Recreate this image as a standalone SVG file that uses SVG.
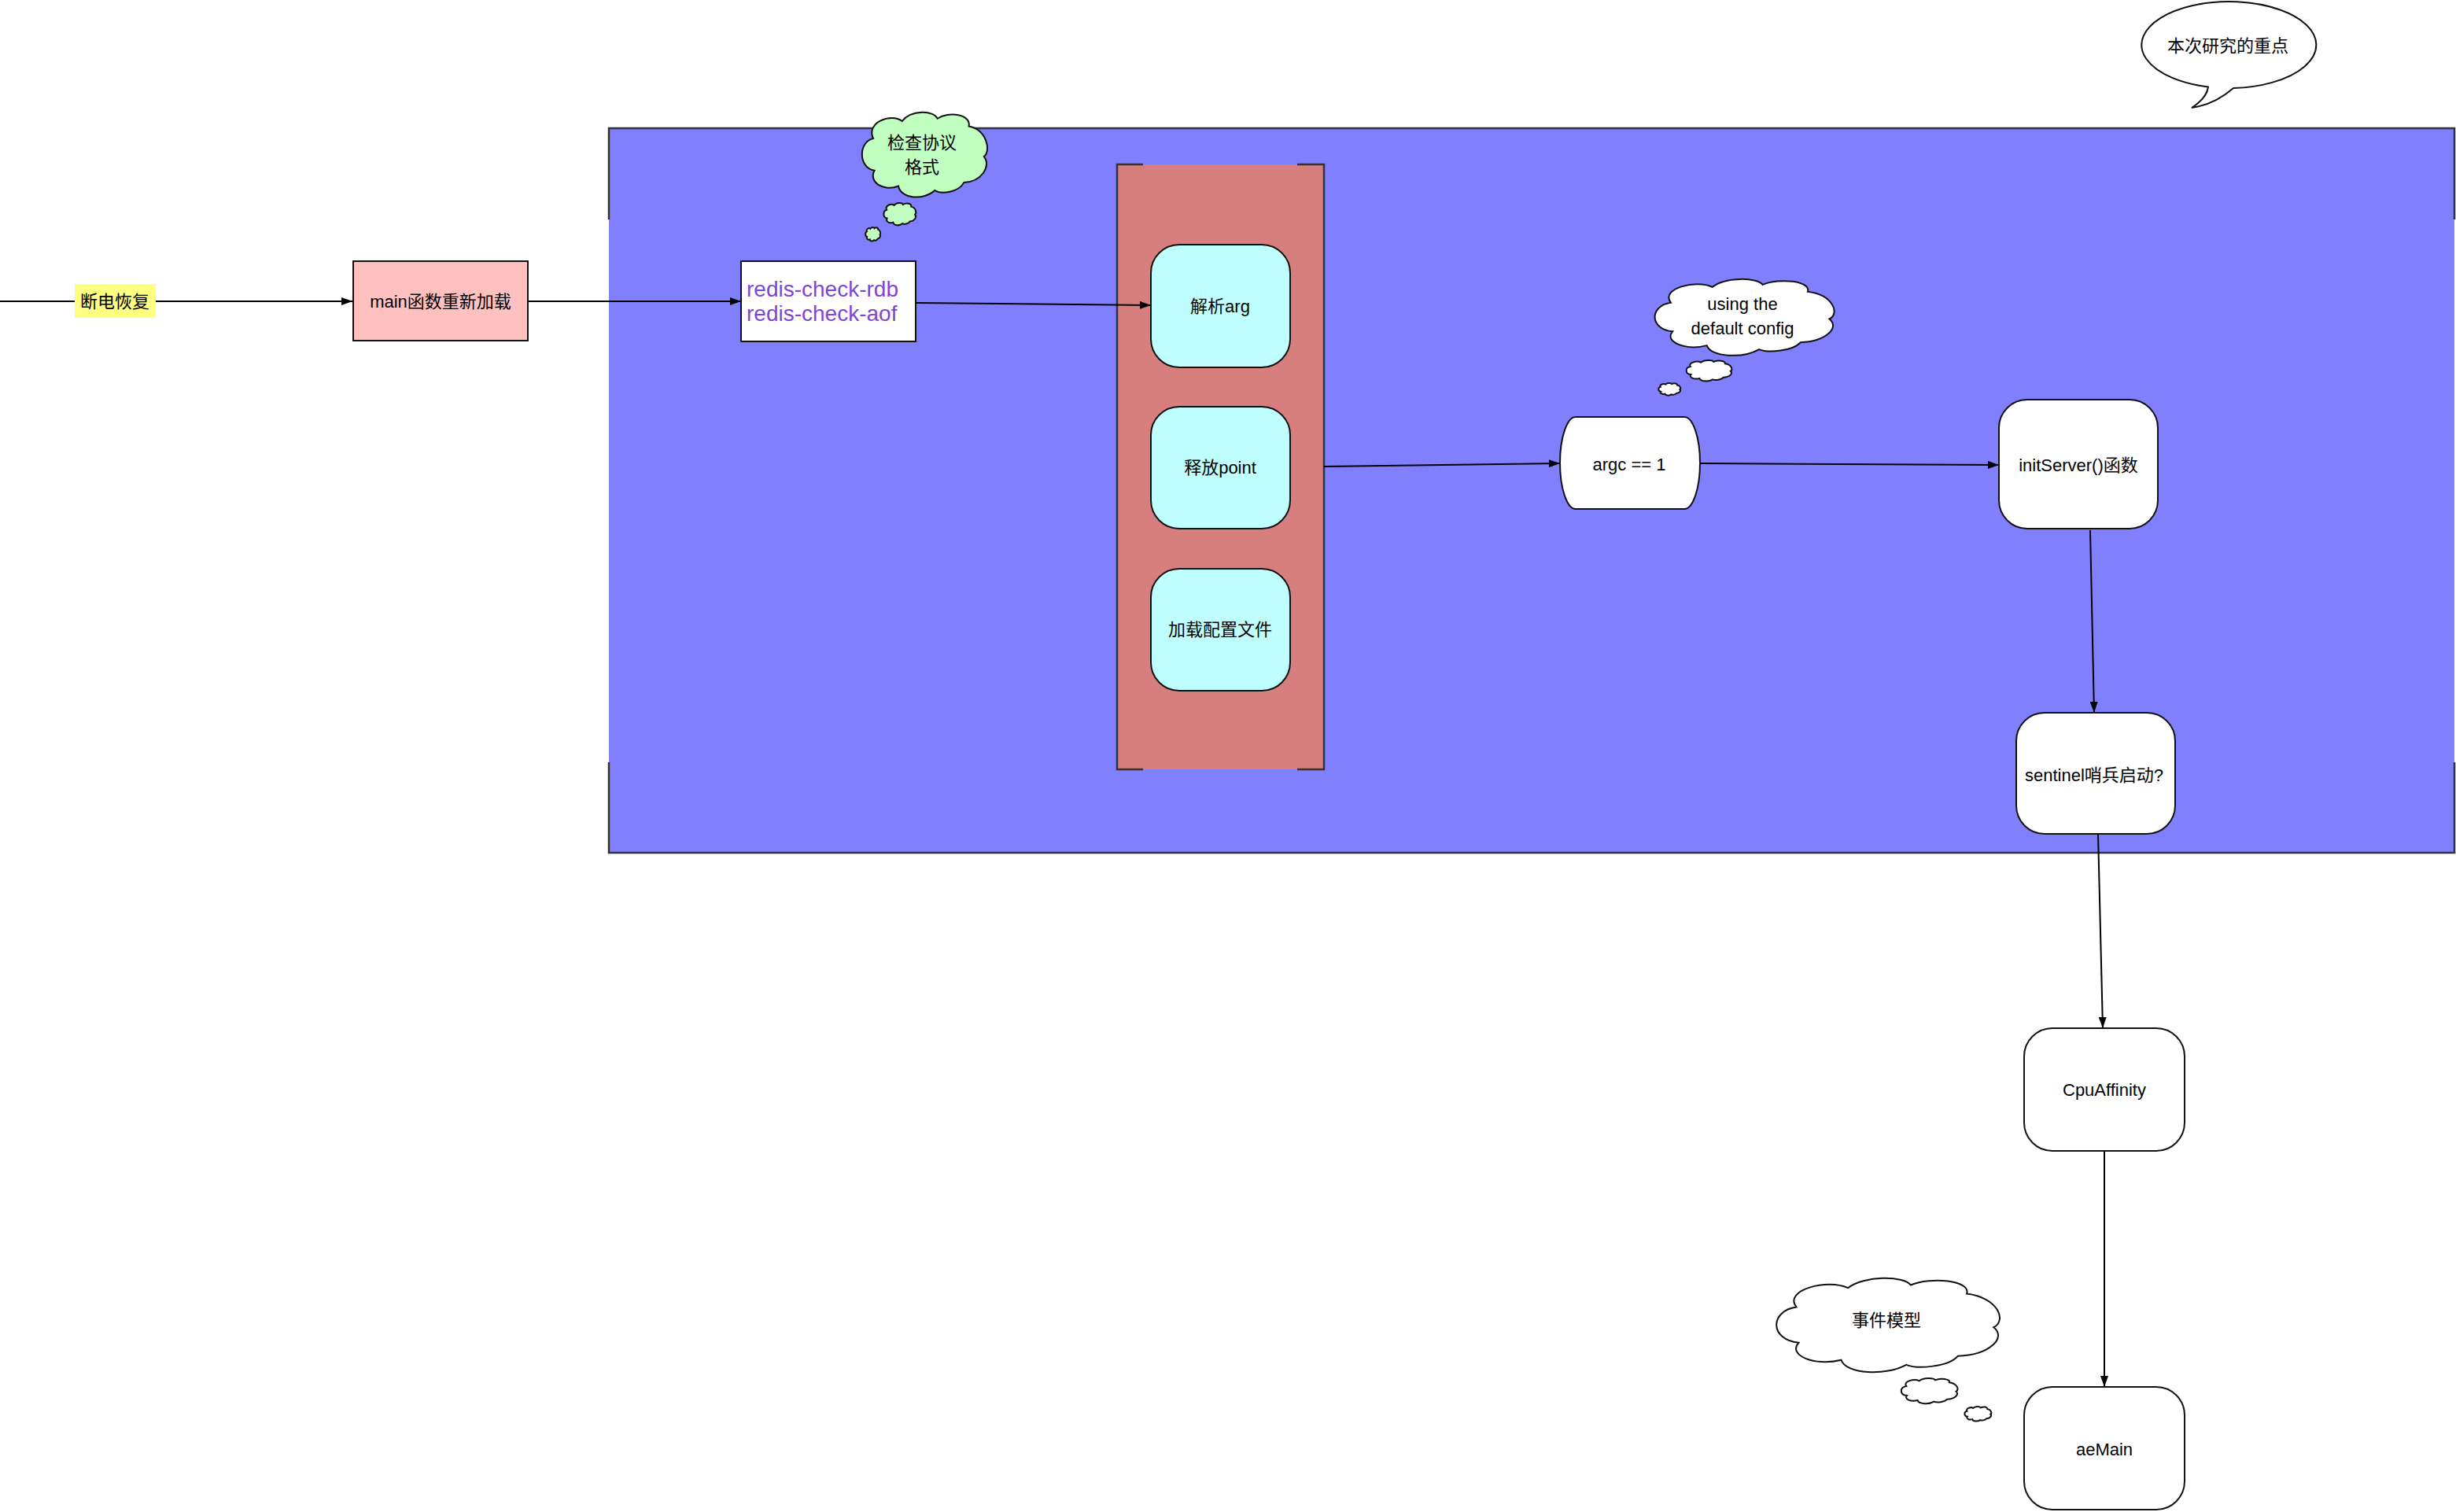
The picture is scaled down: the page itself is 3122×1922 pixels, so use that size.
<svg xmlns="http://www.w3.org/2000/svg" width="3122" height="1922" viewBox="0 0 3122 1922">
<style>
text{font-family:"Liberation Sans","Noto Sans CJK SC",sans-serif;font-size:22px;fill:#000}
.c{text-anchor:middle}
.edge{fill:none;stroke:#000;stroke-width:2;marker-end:url(#arr)}
.box{stroke:#111;stroke-width:2}
.rb{fill:#fff;stroke:#111;stroke-width:2}
.cy{fill:#C0FFFF;stroke:#111;stroke-width:2}
.cloud{stroke:#111;stroke-width:2}
.frame{fill:none;stroke:#333;stroke-width:2.5}
</style>
<defs>
<marker id="arr" markerUnits="userSpaceOnUse" markerWidth="14" markerHeight="10" refX="14" refY="5" orient="auto" viewBox="0 0 14 10"><path d="M0,0 L14,5 L0,10 Z" fill="#000"/></marker>
<path id="cloud" vector-effect="non-scaling-stroke" d="M10,30 C4,12 24,0 33,10 C40,-3 58,-3 61,7 C70,-2 88,2 86,16 C100,20 104,44 98,51 C104,62 96,80 82,81 C78,92 64,95 59,90 C50,102 32,100 30,85 C18,92 6,80 11,67 C-2,64 -2,34 10,30 Z"/>
</defs>
<rect width="3122" height="1922" fill="#fff"/>

<g id="container-blue">
<rect x="774" y="163" width="2346" height="921" fill="#8080FF"/>
<path class="frame" d="M774,279 V163 H3120 V279 M774,969 V1084 H3120 V969"/>
</g>

<g id="container-red">
<rect x="1420" y="209" width="263" height="769" fill="#D77F7F"/>
<path class="frame" d="M1453,209 H1420 V978 H1453 M1649,209 H1683 V978 H1649"/>
</g>

<g id="connectors">
<path class="edge" d="M0,383 H448"/>
<path class="edge" d="M671,383 H942"/>
<path class="edge" d="M1164,385 L1463,388"/>
<path class="edge" d="M1683,593 L1983,589"/>
<path class="edge" d="M2161,589 L2541,591"/>
<path class="edge" d="M2657,674 L2662,906"/>
<path class="edge" d="M2667,1060 L2673,1307"/>
<path class="edge" d="M2675,1463 V1763"/>
<g id="label-power">
<rect x="95" y="361" width="103" height="43" fill="#FFFF80"/>
<text class="c" x="146" y="391">断电恢复</text>
</g>
</g>

<g id="node-main">
<rect class="box" x="449" y="332" width="222" height="101" fill="#FFC0C0"/>
<text class="c" x="560" y="391">main函数重新加载</text>
</g>

<g id="node-redis-check">
<rect class="box" x="942" y="332" width="222" height="102" fill="#fff"/>
<text x="949" y="377" style="font-size:28px;fill:#7E45D8">redis-check-rdb</text>
<text x="949" y="408" style="font-size:28px;fill:#7E45D8">redis-check-aof</text>
</g>

<g id="cloud-check">
<use href="#cloud" class="cloud" fill="#C0FFC0" transform="translate(1094,143) scale(1.6,1.1)"/>
<use href="#cloud" class="cloud" fill="#C0FFC0" transform="translate(1123,258) scale(0.41,0.29)"/>
<use href="#cloud" class="cloud" fill="#C0FFC0" transform="translate(1100,289) scale(0.19,0.18)"/>
<text class="c" x="1172" y="189">检查协议</text>
<text class="c" x="1172" y="220">格式</text>
</g>

<g id="node-parse-arg">
<rect class="cy" x="1463" y="311" width="177" height="156" rx="36"/>
<text class="c" x="1551" y="397">解析arg</text>
</g>
<g id="node-free-point">
<rect class="cy" x="1463" y="517" width="177" height="155" rx="36"/>
<text class="c" x="1551" y="602">释放point</text>
</g>
<g id="node-load-config">
<rect class="cy" x="1463" y="723" width="177" height="155" rx="36"/>
<text class="c" x="1551" y="808">加载配置文件</text>
</g>

<g id="node-argc">
<rect class="rb" x="1983" y="530" width="178" height="117" rx="20" ry="58.5"/>
<text class="c" x="2071" y="598">argc == 1</text>
</g>

<g id="cloud-default">
<use href="#cloud" class="cloud" fill="#fff" transform="translate(2101,355) scale(2.29,0.99)"/>
<use href="#cloud" class="cloud" fill="#fff" transform="translate(2143,458) scale(0.58,0.27)"/>
<use href="#cloud" class="cloud" fill="#fff" transform="translate(2108,487) scale(0.28,0.16)"/>
<text class="c" x="2215" y="394">using the</text>
<text class="c" x="2215" y="425">default config</text>
</g>

<g id="node-initserver">
<rect class="rb" x="2541" y="508" width="202" height="164" rx="36"/>
<text class="c" x="2642" y="599">initServer()函数</text>
</g>

<g id="node-sentinel">
<rect class="rb" x="2563" y="906" width="202" height="154" rx="36"/>
<text class="c" x="2662" y="993">sentinel哨兵启动?</text>
</g>

<g id="node-cpuaffinity">
<rect class="rb" x="2573" y="1307" width="204" height="156" rx="36"/>
<text class="c" x="2675" y="1393">CpuAffinity</text>
</g>

<g id="node-aemain">
<rect class="rb" x="2573" y="1763" width="204" height="156" rx="36"/>
<text class="c" x="2675" y="1850">aeMain</text>
</g>

<g id="cloud-event">
<use href="#cloud" class="cloud" fill="#fff" transform="translate(2255,1625) scale(2.85,1.22)"/>
<use href="#cloud" class="cloud" fill="#fff" transform="translate(2416,1752) scale(0.72,0.33)"/>
<use href="#cloud" class="cloud" fill="#fff" transform="translate(2497,1788) scale(0.34,0.19)"/>
<text class="c" x="2398" y="1686">事件模型</text>
</g>

<g id="callout-focus">
<path fill="#fff" stroke="#111" stroke-width="2" d="M2807,110.5 A111,55 0 1 1 2839,112 Q2815,133 2786,137 Q2805,125 2807,110.5 Z"/>
<text class="c" x="2832" y="66">本次研究的重点</text>
</g>
</svg>
